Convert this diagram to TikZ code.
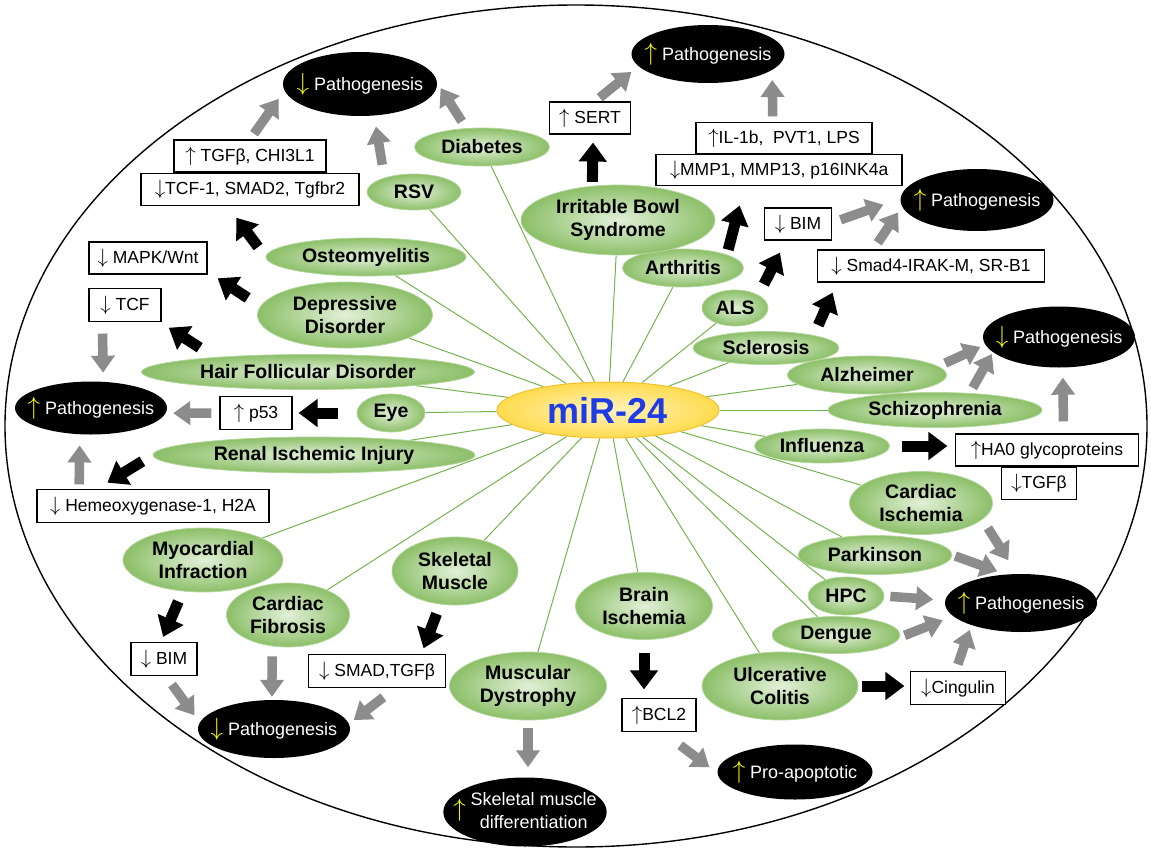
\documentclass[tikz,border=0pt]{standalone}
\usepackage{fontspec}
\setmainfont{Liberation Sans}
\usepackage{tikz}
\usetikzlibrary{
  arrows.meta,
  shapes.geometric,
  positioning,
  backgrounds
}
\definecolor{mirBlue}{HTML}{1E3CE6}
\definecolor{mirFill}{HTML}{FFDB4D}
\definecolor{mirLight}{HTML}{FFF4C0}
\definecolor{mirEdge}{HTML}{F2C230}
\definecolor{disDark}{HTML}{8CBF68}
\definecolor{disLight}{HTML}{E2F0D8}
\definecolor{disEdge}{HTML}{B5D69E}
\definecolor{linkGreen}{HTML}{76B24E}
\definecolor{arrGray}{HTML}{8C8C8C}
\definecolor{arrYellow}{HTML}{FFFF00}
\newcommand{\arup}{{\fontsize{20.74}{21}\selectfont$\uparrow$}}
\newcommand{\ardn}{{\fontsize{20.74}{21}\selectfont$\downarrow$}}
\newcommand{\yarup}{{\fontsize{24.88}{25}\selectfont\textcolor{arrYellow}{$\uparrow$}}}
\newcommand{\yardn}{{\fontsize{24.88}{25}\selectfont\textcolor{arrYellow}{$\downarrow$}}}
\tikzset{
  dis/.style={
    ellipse, draw=disEdge, line width=0.8pt, inner color=disLight, outer color=disDark,
    inner sep=0pt, align=center, font=\fontsize{19.5}{23}\selectfont\bfseries
  },
  mirnode/.style={
    ellipse, draw=mirEdge, line width=1pt, inner color=mirLight, outer color=mirFill,
    inner sep=0pt, minimum width=222pt, minimum height=56pt, text=mirBlue,
    font=\fontsize{36}{40}\selectfont\bfseries
  },
  outcome/.style={
    ellipse, fill=black, text=white, inner xsep=-14pt, inner ysep=0pt,
    minimum width=152pt, minimum height=58pt, align=center,
    font=\fontsize{18}{21.5}\selectfont
  },
  genebox/.style={
    draw, line width=1.1pt, fill=white, inner sep=2pt, minimum height=32pt,
    font=\fontsize{17.5}{21}\selectfont
  },
  blkarrow/.style={line width=11pt, black, -{Triangle[length=19pt, width=27pt]}},
  gryarrow/.style={line width=9.5pt, arrGray, -{Triangle[length=17pt, width=23pt]}},
  link/.style={linkGreen, line width=1pt},
  frame/.style={line width=1.4pt}
}

\begin{document}
\begin{tikzpicture}[x=1pt, y=-1pt]
  \useasboundingbox (0,0) rectangle (1151,851);
  \draw[frame] (576,426) ellipse [x radius=571pt, y radius=421pt];

  \node[outcome, minimum width=154pt, minimum height=64pt] (pathTL) at (360,84) {\yardn\ Pathogenesis};
  \node[outcome, minimum width=153pt] (pathT) at (708,54) {\yarup\ Pathogenesis};
  \node[outcome, minimum width=153pt, minimum height=62pt] (pathR1) at (977,200) {\yarup\ Pathogenesis};
  \node[outcome, minimum height=61pt] (pathR2) at (1059,337) {\yardn\ Pathogenesis};
  \node[outcome, minimum height=53pt] (pathL) at (91,408) {\yarup\ Pathogenesis};
  \node[outcome] (pathBR) at (1021,603) {\yarup\ Pathogenesis};
  \node[outcome] (pathBL) at (274,729) {\yardn\ Pathogenesis};
  \node[outcome, minimum width=163pt, minimum height=69pt, font=\fontsize{18}{23}\selectfont] (musdiff) at (525,812)
    {\yarup\hspace{5pt}\begin{tabular}{@{}c@{}}Skeletal muscle\\differentiation\end{tabular}};
  \node[outcome, minimum width=155pt, minimum height=55pt] (apopt) at (795,772) {\yarup\ Pro-apoptotic};

  \node[dis, minimum width=135pt, minimum height=38pt] (diab) at (482,147) {Diabetes};
  \node[dis, minimum width=94pt, minimum height=36pt] (rsv) at (414,192) {RSV};
  \node[dis, minimum width=200pt, minimum height=38pt] (osteo) at (366,257) {Osteomyelitis};
  \node[dis, minimum width=175pt, minimum height=66pt] (depr) at (345,315) {Depressive\\Disorder};
  \node[dis, minimum width=333pt, minimum height=35pt] (hair) at (308,372) {Hair Follicular Disorder};
  \node[dis, minimum width=68pt, minimum height=38pt] (eye) at (391,413) {Eye};
  \node[dis, minimum width=322pt, minimum height=36pt] (renal) at (314,455) {Renal Ischemic Injury};
  \node[dis, minimum width=160pt, minimum height=64pt] (myo) at (203,560) {Myocardial\\Infraction};
  \node[dis, minimum width=123pt, minimum height=64pt] (cfib) at (288,615) {Cardiac\\Fibrosis};
  \node[dis, minimum width=126pt, minimum height=68pt] (skm) at (455,571) {Skeletal\\Muscle};
  \node[dis, minimum width=157pt, minimum height=68pt] (mdys) at (528,686) {Muscular\\Dystrophy};
  \node[dis, minimum width=137pt, minimum height=67pt] (brain) at (644,606) {Brain\\Ischemia};
  \node[dis, minimum width=128pt, minimum height=37pt] (deng) at (836,635) {Dengue};
  \node[dis, minimum width=156pt, minimum height=68pt] (ulc) at (780,686) {Ulcerative\\Colitis};
  \node[dis, minimum width=76pt, minimum height=38pt] (hpc) at (846,596) {HPC};
  \node[dis, minimum width=154pt, minimum height=39pt] (park) at (875,555) {Parkinson};
  \node[dis, minimum width=143pt, minimum height=63pt] (cisch) at (921,503) {Cardiac\\Ischemia};
  \node[dis, minimum width=135pt, minimum height=34pt] (infl) at (822,446) {Influenza};
  \node[dis, minimum width=214pt, minimum height=35pt] (schiz) at (935,410) {Schizophrenia};
  \node[dis, minimum width=159pt, minimum height=38pt] (alz) at (867,375) {Alzheimer};
  \node[dis, minimum width=146pt, minimum height=33pt] (scl) at (766,348) {Sclerosis};
  \node[dis, minimum width=66pt, minimum height=36pt] (als) at (735,308) {ALS};
  \node[dis, minimum width=121pt, minimum height=38pt] (arth) at (683,268) {Arthritis};
  \node[dis, minimum width=194pt, minimum height=70pt] (ibs) at (618,220) {Irritable Bowl\\Syndrome};
  \node[mirnode] (mir) at (608,410) {miR-24};

  \node[genebox, minimum width=152pt] (tgf) at (250,156) {\arup\ TGFβ, CHI3L1};
  \node[genebox, minimum width=218pt, below=0pt of tgf] (tcfsmad) {\ardn TCF-1, SMAD2, Tgfbr2};
  \node[genebox, minimum width=118pt] (mapk) at (148,258) {\ardn\ MAPK/Wnt};
  \node[genebox, minimum width=72pt, minimum height=33pt] (tcf) at (125,305) {\ardn\ TCF};
  \node[genebox, minimum width=72pt, minimum height=33pt] (p53) at (256,413) {\arup\ p53};
  \node[genebox, minimum width=232pt, minimum height=33pt] (hemeo) at (153,506) {\ardn\ Hemeoxygenase-1, H2A};
  \node[genebox, minimum width=66pt, minimum height=33pt] (bimBL) at (164,659) {\ardn\ BIM};
  \node[genebox, minimum width=137pt, minimum height=33pt] (smad) at (377,671) {\ardn\ SMAD,TGFβ};
  \node[genebox, minimum width=74pt, minimum height=33pt] (bcl2) at (659,715) {\arup BCL2};
  \node[genebox, minimum width=95pt, minimum height=33pt] (cing) at (958,688) {\ardn Cingulin};
  \node[genebox, minimum width=183pt] (ha0) at (1047,450) {\arup HA0 glycoproteins};
  \node[genebox, minimum width=75pt, below=0pt of ha0, xshift=-8pt] (tgfb) {\ardn TGFβ};
  \node[genebox, minimum width=227pt] (smad4) at (931,266) {\ardn\ Smad4-IRAK-M, SR-B1};
  \node[genebox, minimum width=67pt] (bimTR) at (798,224) {\ardn\ BIM};
  \node[genebox, minimum width=81pt] (sert) at (590,118) {\arup\ SERT};
  \node[genebox, minimum width=176pt, minimum height=31pt] (il1b) at (784,138) {\arup IL-1b,\ \ PVT1, LPS};
  \node[genebox, minimum width=246pt, minimum height=31pt, below=0pt of il1b, xshift=-5pt] (mmp) {\ardn MMP1, MMP13, p16INK4a};

  \begin{scope}[on background layer]
    \foreach \d in {diab,rsv,osteo,depr,hair,eye,renal,myo,cfib,skm,mdys,brain,
                    ulc,deng,hpc,park,cisch,infl,schiz,alz,scl,als,arth,ibs}{
      \draw[link] (mir) -- (\d);
    }
  \end{scope}

  \draw[gryarrow, shorten <=7pt, shorten >=10pt] (tgf.north) -- (pathTL.185);
  \draw[gryarrow, shorten <=13pt, shorten >=11pt] (rsv.154) -- (pathTL.294);
  \draw[gryarrow, shorten <=8pt, shorten >=6.5pt] (diab.130) -- (pathTL.1);
  \draw[gryarrow, shorten <=6pt, shorten >=9pt] (sert.73) -- (pathT.190);
  \draw[gryarrow, shorten <=5.5pt, shorten >=10pt] (il1b.125) -- (pathT.346);
  \draw[gryarrow, shorten <=9pt, shorten >=18pt] (bimTR.2) -- (pathR1.179);
  \draw[gryarrow, shorten <=8pt, shorten >=7pt] (smad4.164) -- (pathR1.185);
  \draw[gryarrow, shorten <=7.5pt, shorten >=5.5pt] (alz.7) -- (pathR2.186);
  \draw[gryarrow, shorten <=6pt, shorten >=2pt] (schiz.26) -- (pathR2.193);
  \draw[gryarrow, shorten <=12pt, shorten >=10pt] (ha0.45) -- (pathR2.277);
  \draw[gryarrow, shorten <=10pt, shorten >=16pt] (cisch.345) -- (pathBR.98);
  \draw[gryarrow, shorten <=3pt, shorten >=9pt] (park.east) -- (pathBR.118);
  \draw[gryarrow, shorten <=6pt, shorten >=12pt] (hpc.east) -- (pathBR.178);
  \draw[gryarrow, shorten <=5pt, shorten >=11pt] (deng.358) -- (pathBR.191);
  \draw[gryarrow, shorten <=7pt, shorten >=5pt] (cing.98) -- (pathBR.204);
  \draw[gryarrow, shorten <=22pt, shorten >=10pt] (bcl2.282) -- (apopt.181);
  \draw[gryarrow, shorten <=8pt, shorten >=10pt] (mdys.south) -- (mdys.south |- musdiff.north);
  \draw[gryarrow, shorten <=15pt, shorten >=6pt] (smad.317) -- (pathBL.4);
  \draw[gryarrow, shorten <=10pt, shorten >=3pt] (cfib.243) -- (pathBL.94);
  \draw[gryarrow, shorten <=10.5pt, shorten >=9pt] (bimBL.276) -- (pathBL.175);
  \draw[gryarrow, shorten <=11.5pt, shorten >=9pt] (tcf.217) -- (pathL.65);
  \draw[gryarrow, shorten <=8pt, shorten >=7.5pt] (p53.west) -- (pathL.356);
  \draw[gryarrow, shorten <=4.5pt, shorten >=11pt] (hemeo.167) -- (pathL.247);

  \draw[blkarrow, shorten <=4pt, shorten >=8pt] (ibs.127) -- (sert.281);
  \draw[blkarrow, shorten <=5pt, shorten >=20pt] (arth.17) -- (mmp.205);
  \draw[blkarrow, shorten <=12pt, shorten >=13.5pt] (als.29) -- (bimTR.234);
  \draw[blkarrow, shorten <=11pt, shorten >=11pt] (scl.15) -- (smad4.190);
  \draw[blkarrow, shorten <=12.5pt, shorten >=7.5pt] (infl.east) -- (infl.east -| ha0.west);
  \draw[blkarrow, shorten <=12.5pt, shorten >=15pt] (osteo.west) -- (tcfsmad.216);
  \draw[blkarrow, shorten <=15pt, shorten >=12pt] (depr.174) -- (mapk.347);
  \draw[blkarrow, shorten <=17.5pt, shorten >=10.5pt] (hair.171) -- (tcf.334);
  \draw[blkarrow, shorten <=19pt, shorten >=6pt] (eye.west) -- (p53.east);
  \draw[blkarrow, shorten <=12pt, shorten >=12pt] (renal.west) -- (hemeo.163);
  \draw[blkarrow, shorten <=11pt, shorten >=5.5pt] (myo.237) -- (bimBL.100);
  \draw[blkarrow, shorten <=10pt, shorten >=6pt] (skm.246) -- (smad.21);
  \draw[blkarrow, shorten <=13.5pt, shorten >=8.5pt] (brain.south) -- (brain.south |- bcl2.north);
  \draw[blkarrow, shorten <=4pt, shorten >=5.5pt] (ulc.east) -- (ulc.east -| cing.west);
\end{tikzpicture}
\end{document}
